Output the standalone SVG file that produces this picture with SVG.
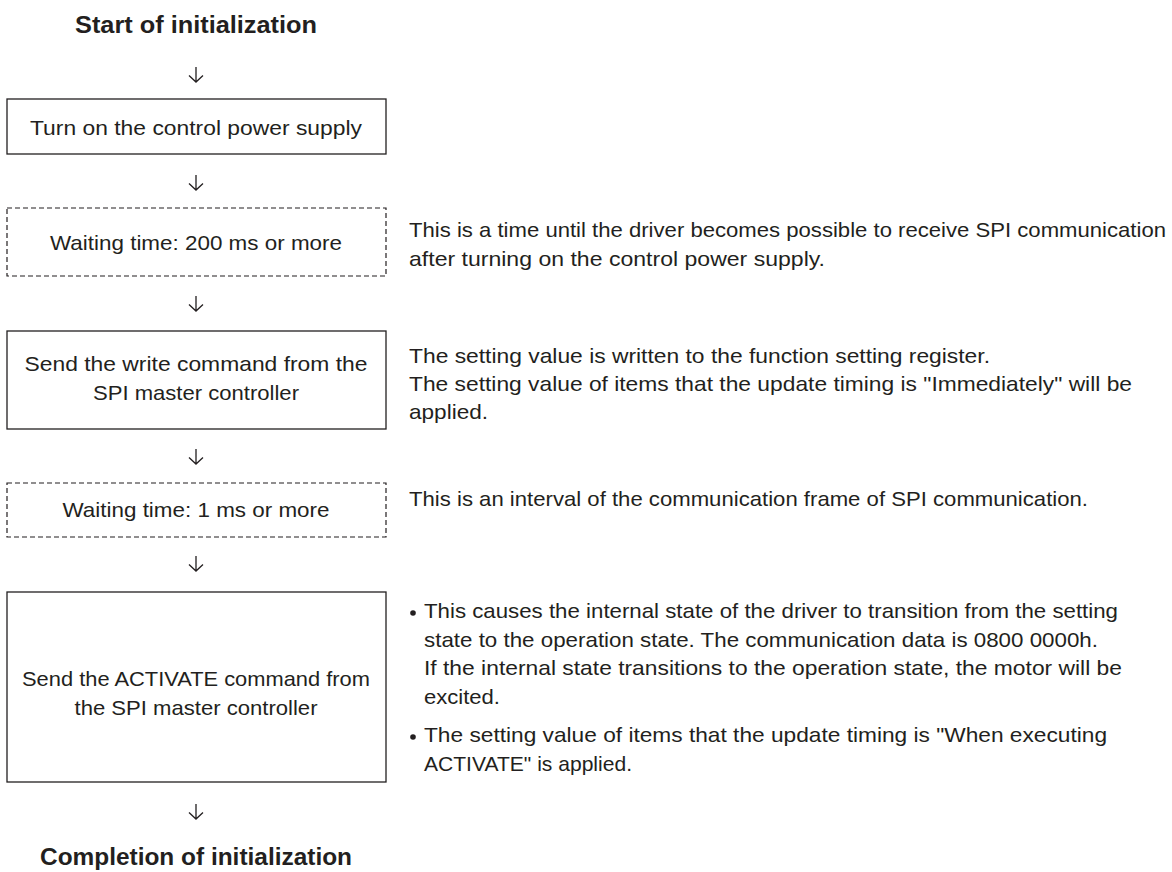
<svg xmlns="http://www.w3.org/2000/svg" width="1172" height="872" viewBox="0 0 1172 872">
<style>
text{font-family:"Liberation Sans",Arial,sans-serif;font-size:21px;fill:#231f20}
.t{font-weight:bold;font-size:23px;text-anchor:middle}
.c{text-anchor:middle}
.box{fill:#fff;stroke:#231f20;stroke-width:1.3}
.dash{fill:#fff;stroke:#231f20;stroke-width:1.2;stroke-dasharray:5 3}
.arr{fill:none;stroke:#231f20;stroke-width:1.3}
</style>
<g id="start"><text class="t" x="196" y="33" textLength="242" lengthAdjust="spacingAndGlyphs">Start of initialization</text></g>
<g id="connectors">
<path class="arr" d="M196 67V82M189 75.5L196 82L203 75.5"/>
<path class="arr" d="M196 175V190M189 183.5L196 190L203 183.5"/>
<path class="arr" d="M196 296V311M189 304.5L196 311L203 304.5"/>
<path class="arr" d="M196 449V464M189 457.5L196 464L203 457.5"/>
<path class="arr" d="M196 556V571M189 564.5L196 571L203 564.5"/>
<path class="arr" d="M196 804V819M189 812.5L196 819L203 812.5"/>
</g>
<g id="n1"><rect class="box" x="7" y="99" width="379" height="55"/>
<text class="c" x="196" y="135" textLength="332" lengthAdjust="spacingAndGlyphs">Turn on the control power supply</text></g>
<g id="n2"><rect class="dash" x="7" y="208" width="379" height="68"/>
<text class="c" x="196" y="250" textLength="292" lengthAdjust="spacingAndGlyphs">Waiting time: 200 ms or more</text>
<text x="409" y="237" textLength="757" lengthAdjust="spacingAndGlyphs">This is a time until the driver becomes possible to receive SPI communication</text>
<text x="409" y="266" textLength="416" lengthAdjust="spacingAndGlyphs">after turning on the control power supply.</text></g>
<g id="n3"><rect class="box" x="7" y="331" width="379" height="98"/>
<text class="c" x="196" y="371" textLength="343" lengthAdjust="spacingAndGlyphs">Send the write command from the</text>
<text class="c" x="196" y="400" textLength="206" lengthAdjust="spacingAndGlyphs">SPI master controller</text>
<text x="409" y="363" textLength="581" lengthAdjust="spacingAndGlyphs">The setting value is written to the function setting register.</text>
<text x="409" y="391" textLength="723" lengthAdjust="spacingAndGlyphs">The setting value of items that the update timing is "Immediately" will be</text>
<text x="409" y="419" textLength="79" lengthAdjust="spacingAndGlyphs">applied.</text></g>
<g id="n4"><rect class="dash" x="7" y="483" width="379" height="54"/>
<text class="c" x="196" y="517" textLength="267" lengthAdjust="spacingAndGlyphs">Waiting time: 1 ms or more</text>
<text x="409" y="506" textLength="679" lengthAdjust="spacingAndGlyphs">This is an interval of the communication frame of SPI communication.</text></g>
<g id="n5"><rect class="box" x="7" y="592" width="379" height="190"/>
<text class="c" x="196" y="686" textLength="348" lengthAdjust="spacingAndGlyphs">Send the ACTIVATE command from</text>
<text class="c" x="196" y="715" textLength="243" lengthAdjust="spacingAndGlyphs">the SPI master controller</text>
<circle cx="413" cy="613" r="2.8" fill="#231f20"/>
<text x="424" y="618" textLength="694" lengthAdjust="spacingAndGlyphs">This causes the internal state of the driver to transition from the setting</text>
<text x="424" y="647" textLength="674" lengthAdjust="spacingAndGlyphs">state to the operation state. The communication data is 0800 0000h.</text>
<text x="424" y="675" textLength="698" lengthAdjust="spacingAndGlyphs">If the internal state transitions to the operation state, the motor will be</text>
<text x="424" y="704" textLength="76" lengthAdjust="spacingAndGlyphs">excited.</text>
<circle cx="413" cy="737" r="2.8" fill="#231f20"/>
<text x="424" y="742" textLength="683" lengthAdjust="spacingAndGlyphs">The setting value of items that the update timing is "When executing</text>
<text x="424" y="771" textLength="208" lengthAdjust="spacingAndGlyphs">ACTIVATE" is applied.</text></g>
<g id="end"><text class="t" x="196" y="865" textLength="312" lengthAdjust="spacingAndGlyphs">Completion of initialization</text></g>
</svg>
